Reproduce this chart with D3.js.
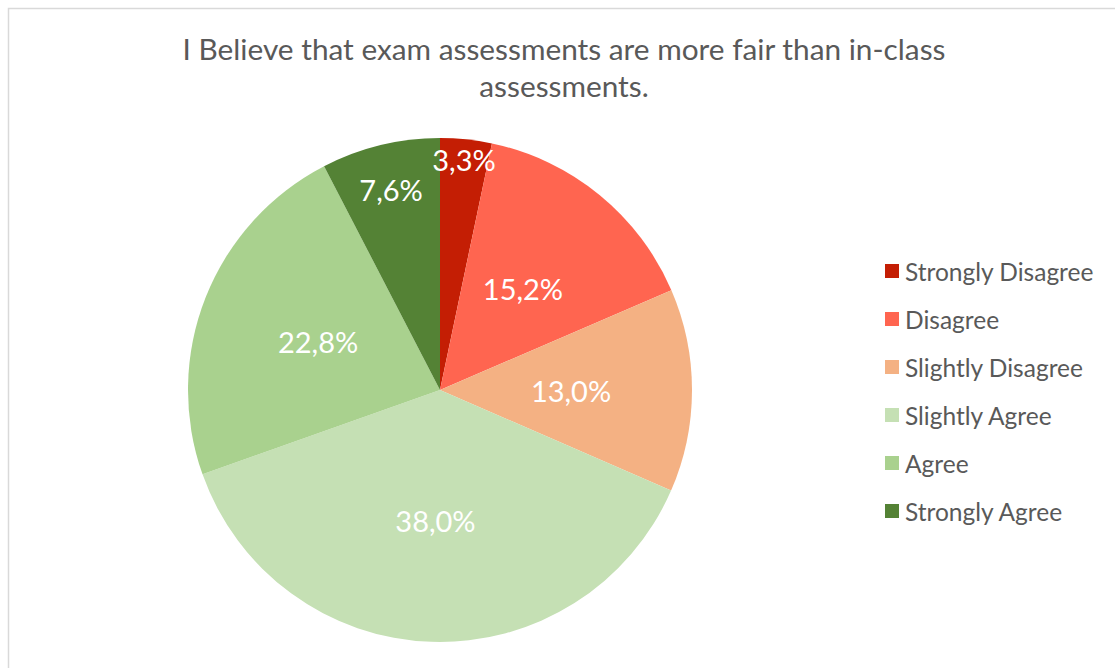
<!DOCTYPE html>
<html>
<head>
<meta charset="utf-8">
<script src="https://cdn.jsdelivr.net/npm/d3@7"></script>
<style>
	body { margin: 0; background: #fff; }
	svg { display: block; }
</style>
</head>
<body>
<svg id="chart" width="1115" height="668"></svg>
<script>
'use strict'

const categories = ['Strongly Disagree', 'Disagree', 'Slightly Disagree', 'Slightly Agree', 'Agree', 'Strongly Agree']
const percents = [3.3, 15.2, 13.0, 38.0, 22.8, 7.6]
const colors = ['#C41E04', '#FF6550', '#F4B183', '#C5E0B4', '#A9D18E', '#548235']
const titleLines = ['I Believe that exam assessments are more fair than in-class', 'assessments.']

const width = 1115
const height = 668
const fontFamily = 'Lato, "Open Sans", sans-serif'
const textGrey = '#595959'

const svg = d3.select('#chart')

// chart frame (only top and left edges show in the crop)
svg.append('path')
	.attr('d', `M8.5,${height} V8.5 H${width}`)
	.attr('fill', 'none')
	.attr('stroke', '#d9d9d9')
	.attr('stroke-width', 1.5)

svg.append('g')
	.attr('class', 'title')
	.selectAll('text')
	.data(titleLines)
	.enter()
	.append('text')
	.attr('x', 564)
	.attr('y', (d, i) => 60 + i * 37)
	.attr('text-anchor', 'middle')
	.attr('font-family', fontFamily)
	.attr('font-size', 29.8)
	.attr('fill', textGrey)
	.text(d => d)

const cx = 440
const cy = 390
const R = 252

const data = categories.map((c, i) => ({ category: c, value: percents[i], color: colors[i] }))

const pie = d3.pie()
	.value(d => d.value)
	.sort(null)

const arc = d3.arc()
	.innerRadius(0)
	.outerRadius(R)

const arcs = pie(data)

const g = svg.append('g')
	.attr('transform', `translate(${cx}, ${cy})`)

g.selectAll('.slice')
	.data(arcs)
	.enter()
	.append('path')
	.attr('class', 'slice')
	.attr('d', arc)
	.attr('fill', d => d.data.color)

const locale = d3.formatLocale({ decimal: ',', thousands: '.', grouping: [3], currency: ['', ''] })
const fmt = locale.format('.1f')

const labels = g.selectAll('.pieLabel')
	.data(arcs)
	.enter()
	.append('text')
	.attr('class', 'pieLabel')
	.attr('text-anchor', 'middle')
	.attr('dominant-baseline', 'central')
	.attr('font-family', fontFamily)
	.attr('font-size', 29)
	.attr('fill', '#fff')
	.text(d => fmt(d.data.value) + '%')

// best-fit placement: push label outward until its box sits inside the wedge
function angleOf(x, y) {
	let a = Math.atan2(x, -y)
	if (a < 0) a += 2 * Math.PI
	return a
}

labels.each(function(d) {
	const w = this.getComputedTextLength()
	const h = 28
	const mid = (d.startAngle + d.endAngle) / 2
	const pad = 4 * Math.PI / 180
	let chosen = 0.92 * R
	for (let f = 0.52; f <= 0.9; f += 0.01) {
		const r = f * R
		const x = Math.sin(mid) * r
		const y = -Math.cos(mid) * r
		const corners = [[x - w / 2, y - h / 2], [x + w / 2, y - h / 2], [x - w / 2, y + h / 2], [x + w / 2, y + h / 2]]
		const ok = corners.every(([px, py]) => {
			let a = angleOf(px, py)
			if (d.endAngle > 2 * Math.PI - 0.001 && a < Math.PI / 2) a += 2 * Math.PI
			return a >= d.startAngle + pad && a <= d.endAngle - pad && Math.hypot(px, py) < R - 6
		})
		if (ok) {
			chosen = r
			break
		}
	}
	d3.select(this)
		.attr('x', Math.sin(mid) * chosen)
		.attr('y', -Math.cos(mid) * chosen)
})

const legend = svg.append('g')
	.attr('class', 'legend')
	.attr('transform', 'translate(885, 271)')

const items = legend.selectAll('.item')
	.data(data)
	.enter()
	.append('g')
	.attr('class', 'item')
	.attr('transform', (d, i) => `translate(0, ${i * 48})`)

items.append('rect')
	.attr('x', 0)
	.attr('y', -7)
	.attr('width', 14)
	.attr('height', 14)
	.attr('fill', d => d.color)

items.append('text')
	.attr('x', 20)
	.attr('y', 0)
	.attr('dominant-baseline', 'central')
	.attr('font-family', fontFamily)
	.attr('font-size', 24.5)
	.attr('fill', textGrey)
	.text(d => d.category)
</script>
</body>
</html>
